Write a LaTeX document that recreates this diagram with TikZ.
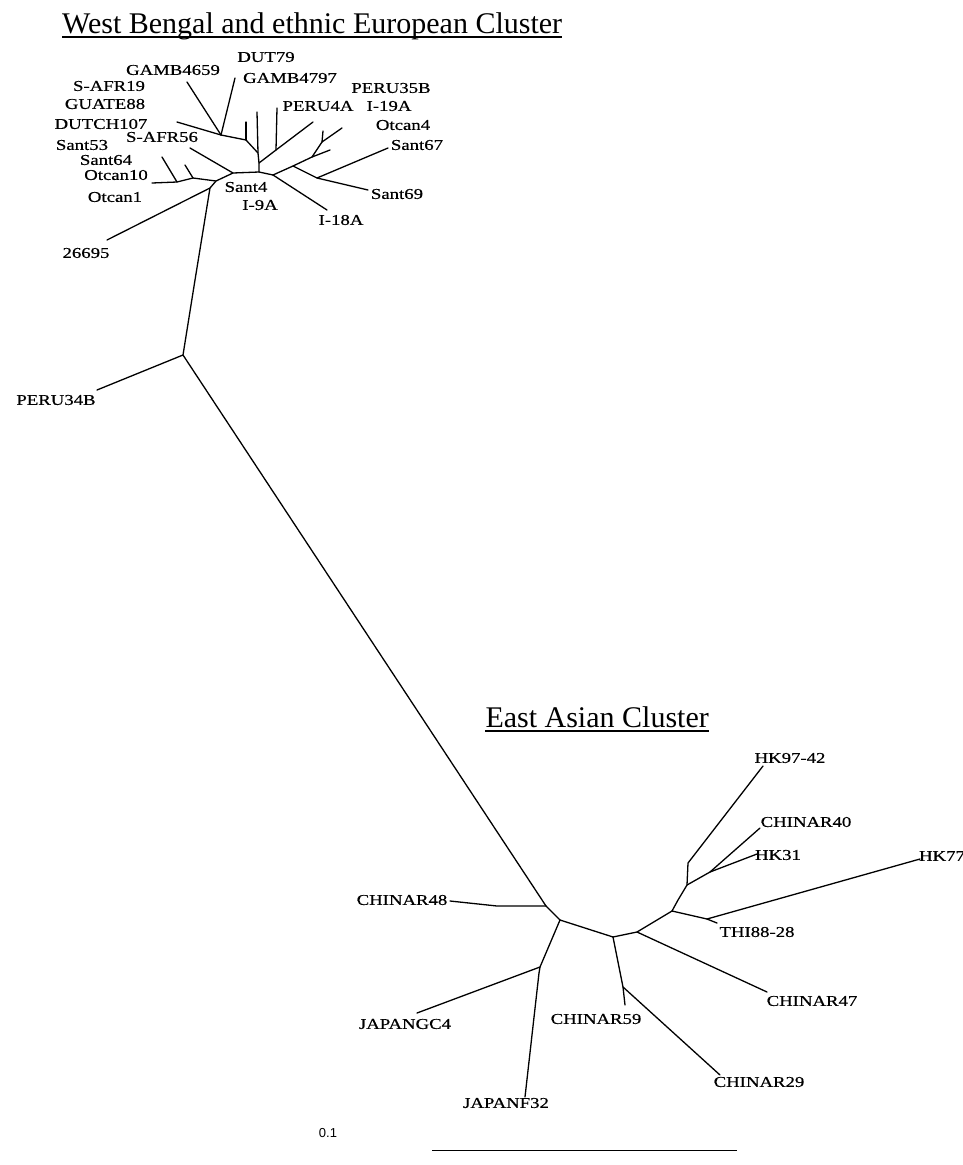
\documentclass[tikz,border=0pt]{standalone}
\usepackage{fontspec}
\setmainfont{Liberation Serif}
\newfontfamily\labfont[FakeStretch=1.25,FakeBold=0.5]{Liberation Serif}
\newfontfamily\sansf{Liberation Sans}
\begin{document}
\begin{tikzpicture}[x=1pt,y=-1pt,
  br/.style={line width=1.3pt,line cap=round,line join=round},
  lab/.style={font=\labfont\fontsize{15}{15}\selectfont,inner sep=0pt,anchor=center},
  ttl/.style={font=\fontsize{30}{33}\selectfont,inner sep=0pt},
  uline/.style={line width=1.1pt}]
\path[use as bounding box] (0,0) rectangle (963,1165);
% titles
\node[ttl,anchor=base west] (t1) at (62,33) {West Bengal and ethnic European Cluster};
\draw[uline] ([yshift=-4pt]t1.base west) -- ([yshift=-4pt]t1.base east);
\node[ttl,anchor=base east] (t2) at (709,727) {East Asian Cluster};
\draw[uline] ([yshift=-4pt]t2.base west) -- ([yshift=-4pt]t2.base east);
% ---- top cluster coordinates
\coordinate (T0) at (183,355);
\coordinate (pP34) at (97,390);
\coordinate (k1) at (187,330);
\coordinate (k2) at (195,280);
\coordinate (T1) at (210,188);
\coordinate (p266) at (107,240);
\coordinate (A1) at (216,181);
\coordinate (L1) at (193,178);
\coordinate (L2) at (177,182);
\coordinate (pO10) at (152,183);
\coordinate (pS53) at (185,165);
\coordinate (pS64) at (162,157);
\coordinate (A2) at (233,173);
\coordinate (pSA56) at (190,148);
\coordinate (A3) at (259,172);
\coordinate (C0) at (259,163);
\coordinate (C1) at (258,153);
\coordinate (pC) at (257,112);
\coordinate (G1) at (246,140);
\coordinate (pG1) at (246,122);
\coordinate (G2) at (221,135);
\coordinate (pGA59) at (187,82);
\coordinate (pD79) at (235,78);
\coordinate (pD107) at (177,122);
\coordinate (P2) at (276,150);
\coordinate (pP3) at (313,122);
\coordinate (pP4A) at (277,108);
\coordinate (A4) at (273,175);
\coordinate (R1) at (293,166);
\coordinate (R2) at (312,157);
\coordinate (R3) at (322,142);
\coordinate (pR3a) at (323,131);
\coordinate (pR3b) at (342,128);
\coordinate (pR2) at (330,150);
\coordinate (S1) at (317,178);
\coordinate (pS67) at (388,148);
\coordinate (pS69) at (368,190);
\coordinate (pI18) at (327,210);
% ---- east cluster coordinates
\coordinate (E0) at (546,906);
\coordinate (e48) at (497,906);
\coordinate (pC48) at (450,901);
\coordinate (E1) at (560,920);
\coordinate (E2) at (540,967);
\coordinate (pJGC4) at (417,1013);
\coordinate (e32) at (539,973);
\coordinate (pJF32) at (525,1097);
\coordinate (E3) at (613,937);
\coordinate (E3a) at (623,987);
\coordinate (pC59) at (625,1005);
\coordinate (pC29) at (720,1075);
\coordinate (E4) at (637,932);
\coordinate (pC47) at (767,992);
\coordinate (E5) at (672,911);
\coordinate (E6) at (707,919);
\coordinate (pTHI) at (717,923);
\coordinate (pHK77) at (920,859);
\coordinate (e7a) at (678,900);
\coordinate (E7) at (687,885);
\coordinate (E8) at (688,863);
\coordinate (pHK97) at (763,766);
\coordinate (E9) at (710,872);
\coordinate (pC40) at (760,828);
\coordinate (pHK31) at (757,854);
% ---- branches top
\draw[br] (pP34) -- (T0) -- (E0);
\draw[br] (T0) -- (k1) -- (k2) -- (T1) -- (p266);
\draw[br] (T1) -- (A1) -- (A2) -- (A3) -- (A4);
\draw[br] (A1) -- (L1) -- (L2) -- (pO10);
\draw[br] (L1) -- (pS53);
\draw[br] (L2) -- (pS64);
\draw[br] (A2) -- (pSA56);
\draw[br] (A3) -- (C0) -- (C1) -- (pC);
\draw[br] (C1) -- (G1) -- (G2);
\draw[br] (G1) -- (pG1);
\draw[br] (G2) -- (pGA59);
\draw[br] (G2) -- (pD79);
\draw[br] (G2) -- (pD107);
\draw[br] (C0) -- (P2) -- (pP3);
\draw[br] (P2) -- (pP4A);
\draw[br] (A4) -- (R1) -- (R2) -- (R3) -- (pR3a);
\draw[br] (R3) -- (pR3b);
\draw[br] (R2) -- (pR2);
\draw[br] (R1) -- (S1) -- (pS67);
\draw[br] (S1) -- (pS69);
\draw[br] (A4) -- (pI18);
% ---- branches east
\draw[br] (E0) -- (e48) -- (pC48);
\draw[br] (E0) -- (E1) -- (E2) -- (pJGC4);
\draw[br] (E2) -- (e32) -- (pJF32);
\draw[br] (E1) -- (E3) -- (E3a) -- (pC59);
\draw[br] (E3a) -- (pC29);
\draw[br] (E3) -- (E4) -- (pC47);
\draw[br] (E4) -- (E5) -- (E6) -- (pTHI);
\draw[br] (E6) -- (pHK77);
\draw[br] (E5) -- (e7a) -- (E7) -- (E8) -- (pHK97);
\draw[br] (E7) -- (E9) -- (pC40);
\draw[br] (E9) -- (pHK31);
% ---- labels top
\node[lab] (lGA59) at (173,70) {GAMB4659};
\node[lab] (lD79) at (266,57) {DUT79};
\node[lab] (lGA97) at (290,78) {GAMB4797};
\node[lab] (lSA19) at (109,86) {S-AFR19};
\node[lab] (lGU88) at (105,104) {GUATE88};
\node[lab] (lD107) at (101,124) {DUTCH107};
\node[lab] (lSA56) at (162,137) {S-AFR56};
\node[lab] (lS53) at (82,145) {Sant53};
\node[lab] (lS64) at (106,160) {Sant64};
\node[lab] (lO10) at (116,175) {Otcan10};
\node[lab] (lO1) at (115,197) {Otcan1};
\node[lab] (l266) at (86,253) {26695};
\node[lab] (lS4) at (246,187) {Sant4};
\node[lab] (lI9) at (260,205) {I-9A};
\node[lab] (lP4A) at (318,106) {PERU4A};
\node[lab] (lP35) at (391,88) {PERU35B};
\node[lab] (lI19) at (389,106) {I-19A};
\node[lab] (lO4) at (403,125) {Otcan4};
\node[lab] (lS67) at (417,145) {Sant67};
\node[lab] (lS69) at (397,194) {Sant69};
\node[lab] (lI18) at (341,220) {I-18A};
\node[lab] (lP34) at (56,400) {PERU34B};
% ---- labels east
\node[lab] (lHK97) at (790,758) {HK97-42};
\node[lab] (lC40) at (806,822) {CHINAR40};
\node[lab] (lHK31) at (778,855) {HK31};
\node[lab] (lHK77) at (942,856) {HK77};
\node[lab] (lTHI) at (757,932) {THI88-28};
\node[lab] (lC47) at (812,1001) {CHINAR47};
\node[lab] (lC29) at (759,1082) {CHINAR29};
\node[lab] (lC59) at (596,1019) {CHINAR59};
\node[lab] (lC48) at (402,900) {CHINAR48};
\node[lab] (lJGC4) at (405,1024) {JAPANGC4};
\node[lab] (lJF32) at (506,1103) {JAPANF32};
% ---- scale bar
\node[font=\sansf\fontsize{13}{13}\selectfont,inner sep=0pt] (sc) at (328,1133) {0.1};
\coordinate (sb1) at (432,1150);
\coordinate (sb2) at (737,1150);
\draw[line width=1pt] (sb1) -- (sb2);
\end{tikzpicture}
\end{document}
